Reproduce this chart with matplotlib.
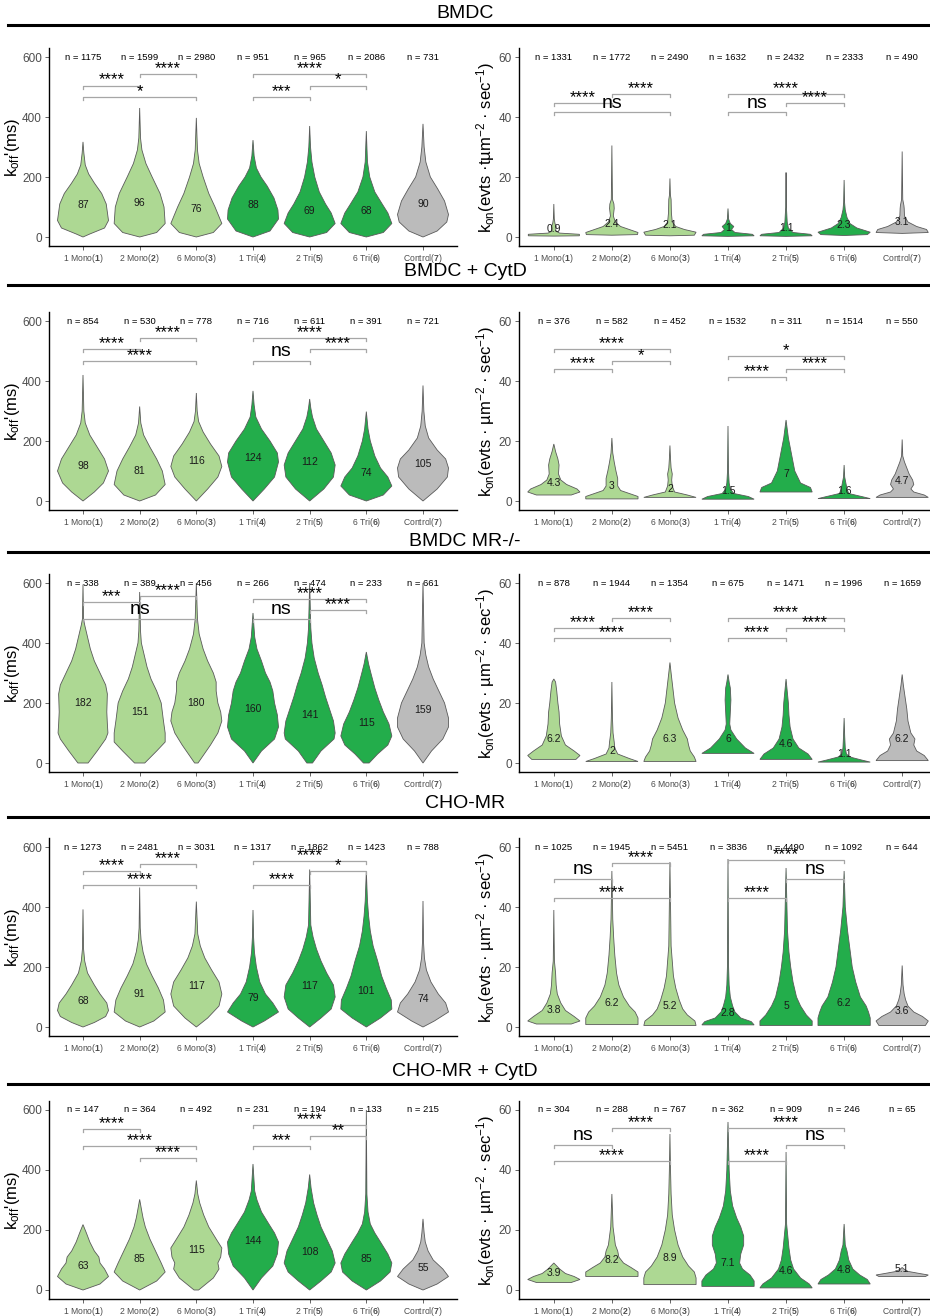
import matplotlib.pyplot as plt

plt.rcParams['font.family'] = ['Liberation Sans', 'DejaVu Sans']
plt.rcParams['mathtext.fontset'] = 'custom'
plt.rcParams['mathtext.rm'] = 'Liberation Sans'
plt.rcParams['mathtext.it'] = 'Liberation Sans:italic'
plt.rcParams['mathtext.bf'] = 'Liberation Sans:bold'

groups = ['1 Mono', '2 Mono', '6 Mono', '1 Tri', '2 Tri', '6 Tri', 'Control']
fills = ['#add893', '#add893', '#add893', '#23ad4b', '#23ad4b', '#23ad4b', '#bbbbbb']
sections = ['BMDC', 'BMDC + CytD', 'BMDC MR-/-', 'CHO-MR', 'CHO-MR + CytD']

# ---- k_off (left column) ----
koff_median = [
    [87, 96, 76, 88, 69, 68, 90],
    [98, 81, 116, 124, 112, 74, 105],
    [182, 151, 180, 160, 141, 115, 159],
    [68, 91, 117, 79, 117, 101, 74],
    [63, 85, 115, 144, 108, 85, 55],
]
koff_n = [
    [1175, 1599, 2980, 951, 965, 2086, 731],
    [854, 530, 778, 716, 611, 391, 721],
    [338, 389, 456, 266, 474, 233, 661],
    [1273, 2481, 3031, 1317, 1862, 1423, 788],
    [147, 364, 492, 231, 194, 133, 215],
]
# violin outlines: (value, half width)
koff_shape = [
    [
        [(0, 0), (10, .12), (30, .38), (55, .45), (110, .41), (145, .33), (180, .2), (210, .1), (240, .04), (280, .015), (317, 0)],
        [(0, 0), (15, .3), (45, .45), (100, .43), (145, .36), (200, .22), (245, .11), (290, .04), (330, .015), (430, 0)],
        [(0, 0), (15, .3), (45, .45), (100, .33), (145, .22), (200, .12), (245, .05), (290, .02), (397, 0)],
        [(0, 0), (20, .3), (60, .45), (90, .44), (130, .37), (170, .25), (200, .14), (230, .06), (270, .02), (323, 0)],
        [(0, 0), (15, .3), (45, .45), (80, .38), (110, .28), (150, .17), (200, .09), (250, .04), (300, .015), (370, 0)],
        [(0, 0), (15, .3), (45, .45), (80, .38), (110, .28), (150, .15), (200, .06), (250, .02), (353, 0)],
        [(0, 0), (20, .25), (50, .42), (75, .45), (120, .38), (160, .26), (200, .13), (250, .05), (300, .02), (377, 0)],
    ],
    [
        [(0, 0), (30, .2), (60, .36), (100, .45), (140, .38), (180, .25), (220, .12), (260, .04), (300, .015), (420, 0)],
        [(0, 0), (20, .28), (55, .45), (100, .4), (140, .3), (180, .18), (220, .07), (260, .02), (315, 0)],
        [(0, 0), (40, .2), (80, .38), (115, .45), (150, .4), (190, .25), (230, .12), (265, .04), (300, .015), (360, 0)],
        [(0, 0), (40, .2), (80, .38), (130, .45), (160, .43), (200, .3), (240, .15), (280, .05), (320, .02), (367, 0)],
        [(0, 0), (40, .25), (80, .42), (120, .45), (160, .38), (200, .25), (240, .12), (280, .05), (310, .02), (340, 0)],
        [(0, 0), (20, .3), (50, .45), (80, .38), (110, .25), (150, .15), (200, .07), (240, .03), (298, 0)],
        [(0, 0), (40, .25), (80, .43), (110, .45), (140, .4), (170, .25), (210, .1), (250, .04), (300, .015), (385, 0)],
    ],
    [
        [(0, .09), (40, .25), (80, .4), (100, .44), (130, .43), (170, .42), (230, .43), (260, .4), (300, .3), (340, .2), (380, .13), (420, .08), (460, .03), (480, .01), (595, 0)],
        [(0, .09), (40, .3), (70, .45), (100, .45), (140, .42), (200, .38), (240, .3), (280, .2), (320, .13), (360, .08), (400, .03), (440, .015), (570, 0)],
        [(0, .03), (60, .25), (100, .38), (140, .45), (170, .43), (200, .38), (240, .35), (270, .35), (300, .3), (340, .2), (380, .12), (430, .05), (480, .02), (600, 0)],
        [(0, 0), (40, .15), (80, .38), (120, .45), (160, .43), (200, .38), (240, .35), (270, .3), (300, .22), (340, .15), (380, .07), (420, .03), (500, 0)],
        [(0, .05), (40, .2), (80, .43), (100, .45), (140, .42), (180, .35), (220, .28), (260, .22), (300, .15), (350, .08), (400, .04), (450, .02), (600, 0)],
        [(0, .05), (30, .2), (60, .38), (90, .45), (130, .4), (170, .3), (210, .22), (250, .15), (300, .08), (330, .04), (370, 0)],
        [(0, 0), (40, .15), (80, .35), (120, .45), (150, .45), (200, .38), (240, .28), (280, .18), (320, .1), (360, .05), (400, .02), (600, 0)],
    ],
    [
        [(0, 0), (15, .2), (35, .4), (55, .45), (80, .42), (110, .3), (140, .2), (180, .08), (220, .03), (260, .01), (392, 0)],
        [(0, 0), (20, .25), (50, .45), (90, .42), (130, .33), (170, .22), (210, .12), (250, .06), (290, .025), (330, .01), (465, 0)],
        [(0, 0), (30, .2), (70, .4), (110, .45), (150, .4), (190, .27), (230, .15), (270, .07), (310, .025), (418, 0)],
        [(0, 0), (20, .2), (50, .45), (80, .35), (110, .22), (150, .12), (200, .06), (250, .025), (300, .01), (390, 0)],
        [(0, 0), (30, .2), (60, .38), (100, .45), (140, .42), (180, .3), (220, .2), (260, .12), (300, .06), (340, .02), (525, 0)],
        [(0, 0), (30, .25), (60, .45), (90, .44), (130, .35), (170, .27), (220, .2), (270, .12), (320, .07), (370, .04), (420, .02), (520, 0)],
        [(0, 0), (20, .2), (50, .45), (80, .4), (110, .27), (150, .14), (190, .06), (230, .025), (280, .01), (420, 0)],
    ],
    [
        [(0, 0), (20, .3), (45, .45), (70, .38), (90, .3), (110, .28), (130, .2), (160, .12), (190, .06), (218, 0)],
        [(0, 0), (30, .3), (60, .45), (90, .38), (130, .28), (170, .18), (210, .1), (240, .06), (260, .04), (302, 0)],
        [(0, .04), (40, .3), (70, .4), (90, .38), (110, .43), (140, .45), (170, .35), (210, .22), (250, .13), (290, .06), (320, .025), (365, 0)],
        [(0, 0), (40, .15), (80, .35), (120, .43), (160, .45), (190, .38), (220, .28), (260, .15), (300, .07), (330, .03), (420, 0)],
        [(0, 0), (30, .2), (60, .38), (90, .45), (130, .4), (170, .3), (210, .2), (250, .13), (290, .07), (340, .025), (385, 0)],
        [(0, 0), (30, .25), (60, .42), (90, .45), (120, .38), (160, .25), (190, .15), (220, .07), (260, .03), (320, .01), (600, 0)],
        [(0, 0), (20, .25), (45, .45), (70, .35), (100, .18), (130, .09), (160, .04), (190, .02), (237, 0)],
    ],
]
# brackets: (group a, group b, height, label)
koff_sig = [
    [(1, 2, 505, '****'), (2, 3, 543, '****'), (1, 3, 468, '*'), (4, 6, 543, '****'), (5, 6, 505, '*'), (4, 5, 468, '***')],
    [(1, 2, 506, '****'), (2, 3, 543, '****'), (1, 3, 468, '****'), (4, 6, 543, '****'), (5, 6, 506, '****'), (4, 5, 468, 'ns')],
    [(1, 2, 538, '***'), (2, 3, 556, '****'), (1, 3, 480, 'ns'), (4, 6, 547, '****'), (5, 6, 510, '****'), (4, 5, 480, 'ns')],
    [(1, 2, 521, '****'), (2, 3, 544, '****'), (1, 3, 473, '****'), (4, 6, 552, '****'), (5, 6, 521, '*'), (4, 5, 473, '****')],
    [(1, 2, 537, '****'), (1, 3, 480, '****'), (2, 3, 439, '****'), (4, 6, 550, '****'), (5, 6, 514, '**'), (4, 5, 480, '***')],
]

# ---- k_on (right column) ----
kon_median = [
    [0.9, 2.4, 2.1, 1, 1.1, 2.3, 3.1],
    [4.3, 3, 2, 1.5, 7, 1.6, 4.7],
    [6.2, 2, 6.3, 6, 4.6, 1.1, 6.2],
    [3.8, 6.2, 5.2, 2.8, 5, 6.2, 3.6],
    [3.9, 8.2, 8.9, 7.1, 4.6, 4.8, 5.1],
]
kon_n = [
    [1331, 1772, 2490, 1632, 2432, 2333, 490],
    [376, 582, 452, 1532, 311, 1514, 550],
    [878, 1944, 1354, 675, 1471, 1996, 1659],
    [1025, 1945, 5451, 3836, 4490, 1092, 644],
    [304, 288, 767, 362, 909, 246, 65],
]
kon_shape = [
    [
        [(0.3, 0), (0.4, .44), (0.9, .44), (1.3, .1), (2, .03), (3.5, .04), (4.5, .02), (6, .008), (11, 0)],
        [(0.6, 0), (0.8, .44), (1.5, .45), (2.5, .3), (3.5, .15), (5, .06), (7, .025), (9.5, .04), (11, .035), (12.5, .01), (30.5, 0)],
        [(0.4, 0), (0.6, .42), (1.6, .45), (2.5, .25), (3.5, .1), (5, .04), (8, .025), (12.5, .02), (14, .008), (19.5, 0)],
        [(0.2, 0), (0.4, .45), (0.9, .42), (1.5, .12), (2.5, .06), (3.5, .1), (4.5, .04), (6, .01), (9.5, 0)],
        [(0.2, 0), (0.4, .45), (0.9, .42), (1.5, .12), (3, .04), (5, .02), (10, .006), (21.5, 0)],
        [(0.5, 0), (0.8, .4), (1.6, .45), (3, .22), (4.5, .1), (6.5, .05), (9, .02), (11.5, .008), (19, 0)],
        [(1.2, 0), (1.5, .45), (2.5, .42), (3.5, .25), (5, .1), (7, .04), (9.5, .035), (10.5, .03), (12.5, .01), (28.5, 0)],
    ],
    [
        [(2, .3), (3, .45), (4, .4), (5.5, .22), (7, .12), (9, .08), (12, .09), (14, .07), (16.5, .03), (19, 0)],
        [(0.7, .45), (1.5, .45), (2.5, .3), (3.5, .15), (5, .1), (7.5, .1), (10, .07), (13, .04), (16, .015), (21, 0)],
        [(1.2, .45), (2, .3), (3, .08), (5, .04), (7, .03), (9, .04), (11, .02), (14, .01), (18.5, 0)],
        [(0.6, .45), (1.5, .35), (2.5, .1), (4, .04), (6, .02), (10, .008), (25, 0)],
        [(3, .45), (4.5, .42), (6, .25), (8, .2), (10, .15), (13, .12), (17, .08), (21, .04), (24, .02), (27, 0)],
        [(0.8, .45), (1.5, .3), (2.5, .08), (4, .05), (6, .03), (8, .01), (12, 0)],
        [(1.2, .45), (2, .38), (3, .2), (4, .15), (5.5, .2), (7, .18), (9, .12), (11, .08), (13, .04), (15, .01), (20.5, 0)],
    ],
    [
        [(1.2, .38), (2.5, .45), (4, .35), (6, .2), (9, .13), (13, .1), (17, .09), (20, .07), (24, .05), (27, .03), (28, 0)],
        [(0.5, .45), (1.5, .3), (3, .1), (5, .05), (7, .04), (10, .02), (15, .01), (27, 0)],
        [(0.5, .45), (2, .42), (4, .35), (6, .32), (8, .3), (11, .22), (15, .14), (20, .08), (25, .05), (30, .02), (33.5, 0)],
        [(3.2, .45), (5, .3), (8, .15), (11, .05), (13, .03), (17, .04), (21, .05), (25, .04), (27, .02), (29.5, 0)],
        [(1.2, .45), (3, .38), (5, .22), (8, .12), (12, .07), (16, .05), (20, .04), (24, .02), (28, 0)],
        [(0.3, .45), (1, .3), (2, .1), (3, .04), (5, .02), (9, .01), (15, 0)],
        [(0.8, .45), (2.5, .38), (4, .25), (6, .2), (8, .22), (10, .15), (14, .1), (18, .08), (22, .05), (26, .02), (29.5, 0)],
    ],
    [
        [(1, .3), (2, .45), (3.5, .35), (5.5, .2), (8, .12), (11, .06), (14, .04), (18, .03), (22, .01), (39, 0)],
        [(0.8, .45), (3, .45), (5, .4), (7, .3), (10, .2), (14, .12), (18, .08), (24, .05), (30, .03), (36, .015), (52, 0)],
        [(0.5, .45), (2, .43), (4, .3), (6, .22), (9, .16), (13, .1), (17, .06), (22, .04), (27, .02), (55, 0)],
        [(0.7, .45), (1.8, .4), (3, .22), (5, .12), (7, .08), (10, .04), (14, .02), (20, .01), (56, 0)],
        [(0.5, .45), (2, .45), (4, .35), (7, .25), (10, .18), (15, .12), (20, .08), (25, .05), (32, .025), (53, 0)],
        [(0.5, .45), (3, .45), (5, .42), (7, .38), (10, .28), (15, .2), (20, .14), (26, .1), (32, .06), (40, .02), (52, 0)],
        [(0.5, .4), (2, .45), (3.5, .35), (5, .2), (7, .1), (9, .06), (11, .035), (14, .015), (20.5, 0)],
    ],
    [
        [(2.5, .3), (3.5, .45), (4.5, .35), (5.5, .2), (7, .1), (8, .05), (9, 0)],
        [(4.5, .45), (6, .45), (7.5, .33), (9, .2), (11, .12), (13, .1), (15, .06), (18, .04), (21, .02), (32, 0)],
        [(1.8, .45), (4, .45), (6, .42), (8, .32), (11, .22), (15, .14), (20, .08), (25, .04), (32, .02), (40, .01), (52, 0)],
        [(1.2, .45), (3, .45), (5, .38), (7, .25), (9, .2), (12, .22), (15, .27), (18, .27), (21, .22), (24, .15), (28, .08), (33, .04), (40, .02), (56, 0)],
        [(0.7, .45), (2, .4), (4, .25), (7, .13), (10, .08), (14, .05), (18, .03), (22, .01), (46, 0)],
        [(2, .45), (3.5, .4), (5, .27), (7, .15), (10, .08), (13, .05), (15, .02), (22, 0)],
        [(4.5, .4), (5, .45), (5.5, .3), (6.2, .1), (7, .03), (7.5, 0)],
    ],
]
kon_sig = [
    [(1, 2, 44.6, '****'), (2, 3, 47.6, '****'), (1, 3, 41.6, 'ns'), (4, 6, 47.6, '****'), (5, 6, 44.6, '****'), (4, 5, 41.6, 'ns')],
    [(1, 3, 50.6, '****'), (2, 3, 46.7, '*'), (1, 2, 43.9, '****'), (4, 6, 48.4, '*'), (5, 6, 43.9, '****'), (4, 5, 41.2, '****')],
    [(2, 3, 48.2, '****'), (1, 2, 44.9, '****'), (1, 3, 41.6, '****'), (4, 6, 48.2, '****'), (5, 6, 44.9, '****'), (4, 5, 41.6, '****')],
    [(1, 2, 49.4, 'ns'), (2, 3, 54.8, '****'), (1, 3, 43.1, '****'), (4, 6, 55.8, '****'), (5, 6, 49.4, 'ns'), (4, 5, 43.1, '****')],
    [(2, 3, 53.9, '****'), (1, 2, 48.3, 'ns'), (1, 3, 42.9, '****'), (4, 6, 53.9, '****'), (5, 6, 48.3, 'ns'), (4, 5, 42.9, '****')],
]

koff_label = r"$\mathrm{k_{off}}$'(ms)"
kon_labels = [r"$\mathrm{k_{on}(evts\ ·tµm^{-2}\ ·\ sec^{-1})}$"] + \
    [r"$\mathrm{k_{on}(evts\ ·\ µm^{-2}\ ·\ sec^{-1})}$"] * 4

W, H = 930, 1316
fig = plt.figure(figsize=(W / 100, H / 100), dpi=100)

title_y = [13, 272, 541, 804, 1071]
rule_y = [25, 285, 552, 817, 1084]
axes_top = [48, 312, 574, 838, 1101]
axes_h = 198


def px(x, y, w, h):
    return [x / W, 1 - (y + h) / H, w / W, h / H]


def draw_panel(ax, shapes, medians, ns, sigs, top, ylabel):
    for i, prof in enumerate(shapes):
        c = i + 1
        ys = [p[0] for p in prof]
        ws = [p[1] for p in prof]
        xs = [c + w for w in ws] + [c - w for w in ws[::-1]]
        ax.fill(xs, ys + ys[::-1], facecolor=fills[i], edgecolor='#5a5a5a', lw=0.6, zorder=2)
        ax.annotate(f"{medians[i]:g}", (c, medians[i]), xytext=(0, 4), textcoords='offset points',
                    ha='center', va='center', fontsize=7.5, color='#1a1a1a', zorder=4)
        ax.text(c, top, f"n = {ns[i]}", ha='center', va='center', fontsize=6.8, zorder=4)
    tip = top * 0.017
    for a, b, y, lab in sigs:
        ax.plot([a, a, b, b], [y - tip, y, y, y - tip], color='#a6a6a6', lw=0.9, zorder=3)
        if lab == 'ns':
            ax.annotate(lab, ((a + b) / 2, y), xytext=(0, 0.5), textcoords='offset points',
                        ha='center', va='bottom', fontsize=14, zorder=4)
        else:
            ax.annotate(lab, ((a + b) / 2, y), xytext=(0, -1.5), textcoords='offset points',
                        ha='center', va='bottom', fontsize=12, zorder=4)
    ax.set_xlim(0.4, 7.6)
    ax.set_ylim(-top * 0.05, top * 1.05)
    ax.set_yticks([0, top / 3, 2 * top / 3, top])
    ax.set_yticklabels([f"{v:g}" for v in [0, top / 3, 2 * top / 3, top]], fontsize=8.5, color='#4d4d4d')
    ax.set_xticks(range(1, 8))
    ax.set_xticklabels([f"{g}($\\mathbf{{{k + 1}}}$)" for k, g in enumerate(groups)],
                       fontsize=6.2, color='#4d4d4d')
    ax.tick_params(axis='y', length=3, width=0.6, color='#4d4d4d', pad=2)
    ax.tick_params(axis='x', length=3, width=0.6, color='#4d4d4d', pad=1.5)
    for s in ['top', 'right']:
        ax.spines[s].set_visible(False)
    for s in ['left', 'bottom']:
        ax.spines[s].set_linewidth(1.0)
    ax.set_ylabel(ylabel, fontsize=12)


for r in range(5):
    fig.text(0.5, 1 - title_y[r] / H, sections[r], ha='center', va='center', fontsize=14)
    fig.add_artist(plt.Line2D([8 / W, 1], [1 - rule_y[r] / H] * 2, color='black', lw=2.2))

    axl = fig.add_axes(px(49, axes_top[r], 408, axes_h))
    draw_panel(axl, koff_shape[r], koff_median[r], koff_n[r], koff_sig[r], 600, koff_label)
    axl.yaxis.set_label_coords(-0.066, 0.5)

    axr = fig.add_axes(px(519, axes_top[r], 418, axes_h))
    draw_panel(axr, kon_shape[r], kon_median[r], kon_n[r], kon_sig[r], 60, kon_labels[r])
    axr.yaxis.set_label_coords(-0.052, 0.5)

fig.savefig('out.png', dpi=100)
